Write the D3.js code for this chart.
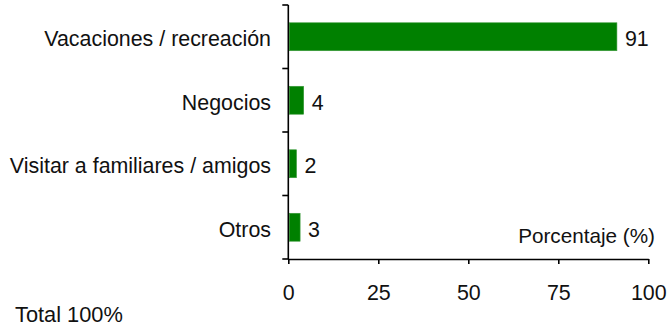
<!DOCTYPE html>
<html><head><meta charset="utf-8">
<script src="https://cdn.jsdelivr.net/npm/d3@7/dist/d3.min.js"></script>
<style>
html,body{margin:0;padding:0;background:#fff;}
text{font-family:"Liberation Sans",Arial,sans-serif;fill:#111;}
</style></head>
<body><svg id="c" width="667" height="326"></svg>
<script>
const categories = ["Vacaciones / recreación", "Negocios", "Visitar a familiares / amigos", "Otros"];
const values = [91, 4, 2, 3];
const xTicks = [0, 25, 50, 75, 100];
const xTitle = "Porcentaje (%)";
const footnote = "Total 100%";

const svg = d3.select("#c");
const pLeft = 288.3, pRight = 648.3, pTop = 5, pBottom = 259;
const fs = 21.4;

const x = d3.scaleLinear().domain([0, 100]).range([pLeft, pRight]);
const y = d3.scaleBand().domain(categories).range([pTop, pBottom])
  .paddingInner(0.56).paddingOuter(0.28);

// bars
svg.selectAll("rect.bar").data(categories).enter().append("rect")
  .attr("x", x(0) + 1)
  .attr("y", d => y(d))
  .attr("width", (d, i) => x(values[i]) - x(0))
  .attr("height", y.bandwidth())
  .attr("fill", "#008000")
  .attr("stroke", "#3a9a3a").attr("stroke-width", 0.6);

// value labels
svg.selectAll("text.val").data(categories).enter().append("text")
  .attr("x", (d, i) => x(values[i]) + 9)
  .attr("y", d => y(d) + y.bandwidth() / 2 + 9.5)
  .attr("font-size", fs)
  .text((d, i) => values[i]);

// y axis
const yAxis = svg.append("g");
yAxis.append("line").attr("x1", pLeft).attr("x2", pLeft).attr("y1", pTop).attr("y2", pBottom)
  .attr("stroke", "#000").attr("stroke-width", 1.6);
const bounds = d3.range(categories.length + 1).map(i => pTop + i * y.step());
yAxis.selectAll("line.t").data(bounds).enter().append("line")
  .attr("x1", pLeft - 6).attr("x2", pLeft).attr("y1", d => d).attr("y2", d => d)
  .attr("stroke", "#000").attr("stroke-width", 1.6);
yAxis.selectAll("text").data(categories).enter().append("text")
  .attr("x", 271).attr("text-anchor", "end")
  .attr("y", d => y(d) + y.bandwidth() / 2 + 9.5)
  .attr("font-size", fs)
  .text(d => d);

// x axis
const xg = svg.append("g").attr("transform", `translate(0,${pBottom})`)
  .call(d3.axisBottom(x).tickValues(xTicks).tickSize(5).tickSizeOuter(0).tickPadding(36));
xg.select(".domain").attr("stroke", "#000").attr("stroke-width", 1.6);
xg.selectAll(".tick line").attr("stroke", "#000").attr("stroke-width", 1.6);
xg.selectAll(".tick text").attr("font-size", fs).attr("font-family", "Liberation Sans, Arial, sans-serif")
  .attr("fill", "#111").attr("dy", "0");

svg.append("text").attr("x", 655).attr("y", 243).attr("text-anchor", "end")
  .attr("font-size", 20.7).text(xTitle);
svg.append("text").attr("x", 15).attr("y", 321.5)
  .attr("font-size", 21.8).text(footnote);
</script></body></html>
